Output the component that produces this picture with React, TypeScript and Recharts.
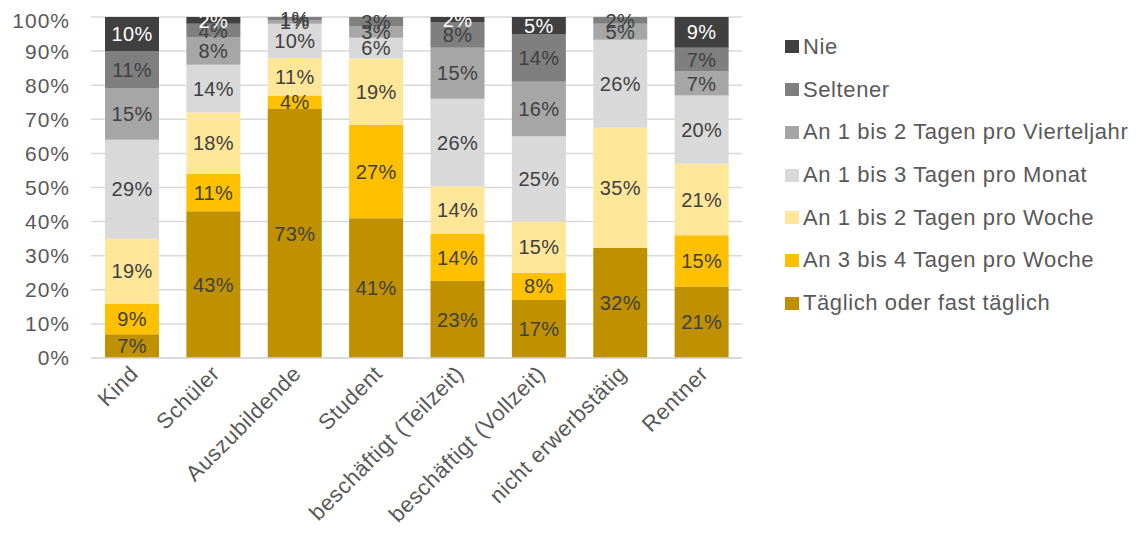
import React from "react";
import { BarChart, Bar, XAxis, YAxis, CartesianGrid, Legend, LabelList } from "recharts";

const categories = [
  "Kind",
  "Schüler",
  "Auszubildende",
  "Student",
  "beschäftigt (Teilzeit)",
  "beschäftigt (Vollzeit)",
  "nicht erwerbstätig",
  "Rentner",
];

const taeglich = [7, 43, 73, 41, 22.6, 17, 32.3, 21];
const tage34 = [9, 11, 4, 27.4, 13.8, 8, 0, 15];
const tage12Woche = [19, 18, 11, 19.4, 14, 15, 35.2, 21];
const tage13Monat = [29, 14, 10, 6.1, 25.6, 25, 25.8, 20];
const vierteljahr = [15, 8, 1, 3.3, 15, 16, 4.7, 7];
const seltener = [11, 4, 1, 2.8, 7.5, 14, 2, 7];
const nie = [10, 2, 0, 0, 1.5, 5, 0, 9];

const yTicks = [0, 10, 20, 30, 40, 50, 60, 70, 80, 90, 100];

const seriesDefs = [
  { key: "taeglich", name: "Täglich oder fast täglich", values: taeglich, color: "#BF9000", text: "#404040" },
  { key: "tage34", name: "An 3 bis 4 Tagen pro Woche", values: tage34, color: "#FFC000", text: "#404040" },
  { key: "tage12Woche", name: "An 1 bis 2 Tagen pro Woche", values: tage12Woche, color: "#FFE699", text: "#404040" },
  { key: "tage13Monat", name: "An 1 bis 3 Tagen pro Monat", values: tage13Monat, color: "#D9D9D9", text: "#404040" },
  { key: "vierteljahr", name: "An 1 bis 2 Tagen pro Vierteljahr", values: vierteljahr, color: "#A6A6A6", text: "#404040" },
  { key: "seltener", name: "Seltener", values: seltener, color: "#7F7F7F", text: "#404040" },
  { key: "nie", name: "Nie", values: nie, color: "#404040", text: "#FFFFFF" },
];

const data = categories.map((c, i) => {
  const row: Record<string, any> = { name: c };
  seriesDefs.forEach((s) => {
    row[s.key] = s.values[i];
  });
  return row;
});

const FONT = "'Liberation Sans', Arial, sans-serif";

const XTick = (props: any) => {
  const { x, y, payload } = props;
  return (
    <g transform={`translate(${x + 8},${y + 17}) rotate(-45)`}>
      <text
        x={0}
        y={0}
        textAnchor="end"
        fill="#595959"
        fontSize={22}
        fontFamily={FONT}
        letterSpacing={0.6}
      >
        {payload.value}
      </text>
    </g>
  );
};

const renderLegend = () => {
  const items = [...seriesDefs].reverse();
  return (
    <div style={{ fontFamily: FONT }}>
      {items.map((p) => (
        <div
          key={p.key}
          style={{ height: 42.7, display: "flex", alignItems: "center" }}
        >
          <span
            style={{
              display: "inline-block",
              width: 14,
              height: 13,
              background: p.color,
              marginRight: 4,
            }}
          />
          <span style={{ fontSize: 22, color: "#595959", letterSpacing: 0.6, whiteSpace: "nowrap" }}>
            {p.name}
          </span>
        </div>
      ))}
    </div>
  );
};

export default function App() {
  return (
    <div style={{ width: 1135, height: 531 }}>
      <BarChart
        width={1135}
        height={531}
        data={data}
        margin={{ top: 9, right: 401, left: 0, bottom: 0 }}
      >
        <CartesianGrid vertical={false} stroke="#D9D9D9" strokeWidth={1.5} />
        <XAxis
          dataKey="name"
          interval={0}
          height={181}
          tickSize={0}
          tickMargin={0}
          tick={<XTick />}
          axisLine={{ stroke: "#D9D9D9", strokeWidth: 1.5 }}
          tickLine={false}
        />
        <YAxis
          width={83}
          domain={[0, 100]}
          ticks={yTicks}
          allowDataOverflow
          tickFormatter={(v: number) => `${v}%`}
          tickLine={false}
          axisLine={false}
          tickSize={0}
          tickMargin={21}
          tick={{ fill: "#595959", fontSize: 21, fontFamily: FONT, letterSpacing: 1 }}
        />
        <Legend
          layout="vertical"
          align="center"
          verticalAlign="middle"
          content={renderLegend}
          wrapperStyle={{ position: "absolute", left: 777, top: 17.6, width: 360 }}
        />
        {seriesDefs.map((s) => (
          <Bar
            key={s.key}
            dataKey={s.key}
            name={s.name}
            stackId="a"
            fill={s.color}
            barSize={54}
            isAnimationActive={false}
          >
            <LabelList
              dataKey={s.key}
              position="center"
              formatter={(v: any) => `${Math.round(Number(v))}%`}
              fill={s.text}
              fontSize={20}
              fontFamily={FONT}
              letterSpacing={0.3}
            />
          </Bar>
        ))}
      </BarChart>
    </div>
  );
}
